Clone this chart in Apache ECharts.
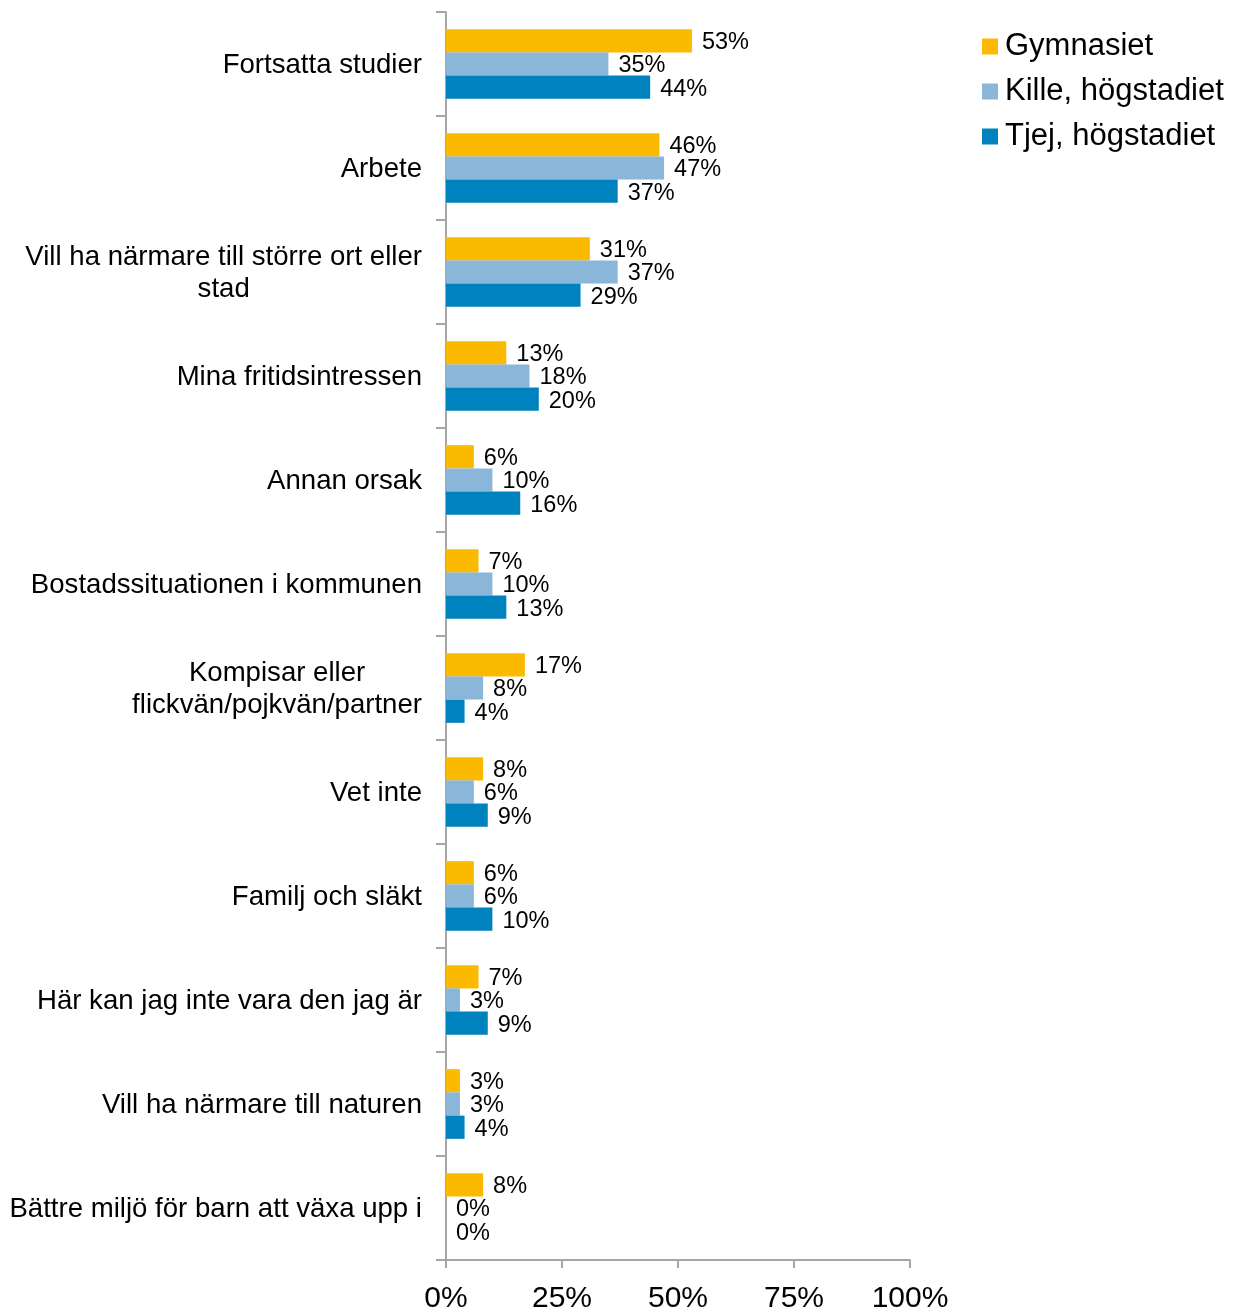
<!DOCTYPE html>
<html>
<head>
<meta charset="utf-8">
<script src="https://cdn.jsdelivr.net/npm/echarts@6/dist/echarts.min.js"></script>
<style>
html,body{margin:0;padding:0;background:#fff;}
#chart{width:1234px;height:1310px;}
</style>
</head>
<body>
<div id="chart"></div>
<script>
const categories = [
  "Fortsatta studier",
  "Arbete",
  "Vill ha närmare till större ort eller\nstad",
  "Mina fritidsintressen",
  "Annan orsak",
  "Bostadssituationen i kommunen",
  "Kompisar eller\nflickvän/pojkvän/partner",
  "Vet inte",
  "Familj och släkt",
  "Här kan jag inte vara den jag är",
  "Vill ha närmare till naturen",
  "Bättre miljö för barn att växa upp i"
];
const seriesNames = ["Gymnasiet", "Kille, högstadiet", "Tjej, högstadiet"];
const gymnasiet = [53, 46, 31, 13, 6, 7, 17, 8, 6, 7, 3, 8];
const kille = [35, 47, 37, 18, 10, 10, 8, 6, 6, 3, 3, 0];
const tjej = [44, 37, 29, 20, 16, 13, 4, 9, 10, 9, 4, 0];
const xTicks = [0, 25, 50, 75, 100];
const colors = ["#FBBA00", "#8AB6D9", "#0082BE"];

const chart = echarts.init(document.getElementById('chart'));
const font = "Liberation Sans, Arial, sans-serif";
function mkSeries(name, data, color) {
  return {
    name: name,
    type: 'bar',
    data: data,
    barGap: '0%',
    barCategoryGap: '33%',
    itemStyle: { color: color },
    label: {
      show: true,
      position: 'right',
      distance: 10,
      offset: [0, 2],
      formatter: '{c}%',
      color: '#000',
      fontSize: 23.5,
      fontFamily: font
    },
    emphasis: { disabled: true }
  };
}
chart.setOption({
  animation: false,
  textStyle: { fontFamily: font },
  grid: { left: 446, right: 324, top: 12, bottom: 50, containLabel: false, outerBoundsMode: 'none' },
  legend: {
    orient: 'vertical',
    left: 977,
    top: 26,
    itemWidth: 16,
    itemHeight: 16,
    itemGap: 14,
    icon: 'rect',
    textStyle: { fontSize: 31, color: '#000', fontFamily: font, padding: [0, 0, 0, 2] },
    data: seriesNames
  },
  xAxis: {
    type: 'value',
    min: 0,
    max: 100,
    interval: 25,
    axisLine: { show: true, lineStyle: { color: '#A6A6A6', width: 2 } },
    axisTick: { show: true, length: 8, lineStyle: { color: '#A6A6A6', width: 2 } },
    splitLine: { show: false },
    axisLabel: {
      formatter: function (v) { return xTicks.indexOf(v) >= 0 ? v + '%' : ''; },
      fontSize: 30,
      color: '#000',
      margin: 24,
      fontFamily: font
    }
  },
  yAxis: {
    type: 'category',
    data: categories,
    inverse: true,
    axisLine: { show: true, lineStyle: { color: '#A6A6A6', width: 2 } },
    axisTick: { show: true, length: 10, lineStyle: { color: '#A6A6A6', width: 2 } },
    axisLabel: {
      margin: 24,
      color: '#000',
      fontFamily: font,
      padding: [2, 0, 0, 0],
      formatter: function (v) {
        return v.split('\n').map(function (l) { return '{a|' + l + '}'; }).join('\n');
      },
      rich: {
        a: { fontSize: 27.6, lineHeight: 32, align: 'center', color: '#000', fontFamily: font }
      }
    }
  },
  series: [
    mkSeries(seriesNames[0], gymnasiet, colors[0]),
    mkSeries(seriesNames[1], kille, colors[1]),
    mkSeries(seriesNames[2], tjej, colors[2])
  ]
});
</script>
</body>
</html>
